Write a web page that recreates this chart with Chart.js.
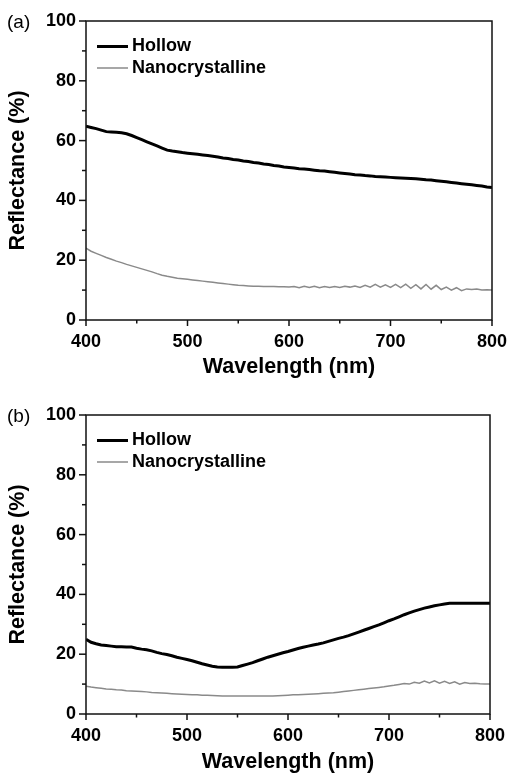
<!DOCTYPE html>
<html>
<head>
<meta charset="utf-8">
<script src="https://cdn.jsdelivr.net/npm/chart.js@4"></script>
<style>
  html, body { margin: 0; padding: 0; background: #fff; }
  #wrapA { position: absolute; left: 0; top: 0; }
  #wrapB { position: absolute; left: 0; top: 386px; }
</style>
</head>
<body>
<div id="wrapA"><canvas id="chartA" width="508" height="386"></canvas></div>
<div id="wrapB"><canvas id="chartB" width="508" height="387"></canvas></div>
<script>
// Data
const wavelength = [
    400, 405, 410, 415, 420, 425, 430, 435, 440, 445,
    450, 455, 460, 465, 470, 475, 480, 485, 490, 495,
    500, 505, 510, 515, 520, 525, 530, 535, 540, 545,
    550, 555, 560, 565, 570, 575, 580, 585, 590, 595,
    600, 605, 610, 615, 620, 625, 630, 635, 640, 645,
    650, 655, 660, 665, 670, 675, 680, 685, 690, 695,
    700, 705, 710, 715, 720, 725, 730, 735, 740, 745,
    750, 755, 760, 765, 770, 775, 780, 785, 790, 795,
    800
];

// (a)
const hollowA = [
    64.8, 64.4, 64.0, 63.5, 63.0, 62.9, 62.8, 62.6, 62.3, 61.7,
    61.0, 60.3, 59.6, 58.9, 58.2, 57.5, 56.8, 56.5, 56.3, 56.0,
    55.8, 55.6, 55.4, 55.2, 55.0, 54.8, 54.5, 54.2, 54.0, 53.7,
    53.5, 53.2, 53.0, 52.7, 52.5, 52.2, 52.0, 51.7, 51.5, 51.2,
    51.0, 50.8, 50.6, 50.5, 50.3, 50.1, 49.9, 49.8, 49.6, 49.4,
    49.2, 49.0, 48.8, 48.6, 48.5, 48.3, 48.2, 48.0, 47.9, 47.8,
    47.7, 47.6, 47.5, 47.4, 47.3, 47.2, 47.1, 46.9, 46.8, 46.6,
    46.4, 46.2, 46.0, 45.8, 45.6, 45.4, 45.2, 45.0, 44.8, 44.5,
    44.3
];
const nanoA = [
    24.0, 23.0, 22.3, 21.6, 20.9, 20.3, 19.7, 19.2, 18.6, 18.1,
    17.6, 17.1, 16.6, 16.1, 15.5, 15.0, 14.6, 14.3, 14.0, 13.8,
    13.6, 13.4, 13.2, 13.0, 12.8, 12.6, 12.4, 12.2, 12.0, 11.8,
    11.6, 11.5, 11.4, 11.3, 11.3, 11.2, 11.2, 11.2, 11.1, 11.1,
    11.0, 11.2, 10.8, 11.3, 10.9, 11.3, 10.8, 11.2, 10.9, 11.2,
    10.9, 11.3, 11.0, 11.4, 10.9, 11.6, 11.0, 11.9, 11.0, 11.8,
    10.9, 11.9, 10.8, 12.0, 10.6, 11.8, 10.4, 11.9, 10.3, 11.6,
    10.2, 11.0, 10.0, 10.8, 9.8, 10.4, 10.2, 10.4, 10.0, 10.1,
    10.0
];

// (b)
const hollowB = [
    25.0, 24.0, 23.5, 23.1, 22.9, 22.7, 22.5, 22.5, 22.4, 22.4,
    22.0, 21.7, 21.5, 21.1, 20.6, 20.2, 19.9, 19.5, 19.0, 18.6,
    18.2, 17.8, 17.3, 16.8, 16.4, 16.0, 15.7, 15.6, 15.6, 15.6,
    15.7, 16.2, 16.7, 17.2, 17.8, 18.4, 19.0, 19.5, 20.0, 20.5,
    20.9, 21.4, 21.9, 22.3, 22.7, 23.1, 23.4, 23.8, 24.3, 24.8,
    25.3, 25.7, 26.2, 26.8, 27.4, 28.0, 28.6, 29.2, 29.8, 30.5,
    31.2, 31.8, 32.5, 33.2, 33.8, 34.4, 34.9, 35.4, 35.8, 36.2,
    36.5, 36.8, 37.0, 37.0, 37.0, 37.0, 37.0, 37.0, 37.0, 37.0,
    37.0
];
const nanoB = [
    9.3, 9.0, 8.8, 8.6, 8.4, 8.3, 8.1, 8.0, 7.8, 7.7,
    7.6, 7.5, 7.4, 7.2, 7.1, 7.0, 6.9, 6.8, 6.7, 6.6,
    6.5, 6.4, 6.4, 6.3, 6.3, 6.2, 6.1, 6.0, 6.0, 6.0,
    6.0, 6.0, 6.0, 6.0, 6.0, 6.0, 6.0, 6.0, 6.1, 6.2,
    6.3, 6.4, 6.4, 6.5, 6.6, 6.7, 6.8, 6.9, 7.0, 7.1,
    7.3, 7.5, 7.7, 7.9, 8.1, 8.3, 8.5, 8.7, 8.9, 9.1,
    9.4, 9.6, 9.9, 10.2, 10.0, 10.6, 10.3, 11.0, 10.4, 11.1,
    10.3, 10.9, 10.2, 10.8, 10.0, 10.5, 10.2, 10.3, 10.1, 10.0,
    10.0
];

const seriesNames = ['Hollow', 'Nanocrystalline'];
const yTicks = [0, 20, 40, 60, 80, 100];
const xTicks = [400, 500, 600, 700, 800];

const FONT = 'Liberation Sans, Arial, sans-serif';

// minor/major ticks, frame, legend and panel letter
const decor = {
    id: 'decor',
    afterDraw(chart, args, opts) {
        const ctx = chart.ctx;
        const a = chart.chartArea;
        const xs = chart.scales.x, ys = chart.scales.y;
        ctx.save();
        ctx.strokeStyle = '#111';
        ctx.lineWidth = 1.5;
        ys.ticks.forEach(t => {
            const y = ys.getPixelForValue(t.value);
            const len = yTicks.includes(t.value) ? 7 : 4;
            ctx.beginPath();
            ctx.moveTo(a.left - len, y);
            ctx.lineTo(a.left, y);
            ctx.stroke();
        });
        xs.ticks.forEach(t => {
            const x = xs.getPixelForValue(t.value);
            const len = xTicks.includes(t.value) ? 6 : 3.5;
            ctx.beginPath();
            ctx.moveTo(x, a.bottom);
            ctx.lineTo(x, a.bottom + len);
            ctx.stroke();
        });
        ctx.strokeRect(a.left, a.top, a.right - a.left, a.bottom - a.top);

        // legend
        ctx.font = 'bold 18px ' + FONT;
        ctx.textBaseline = 'middle';
        ctx.textAlign = 'left';
        chart.data.datasets.forEach((ds, i) => {
            const y = a.top + 25.5 + i * 21.5;
            ctx.strokeStyle = ds.borderColor;
            ctx.lineWidth = ds.borderWidth;
            ctx.beginPath();
            ctx.moveTo(a.left + 11, y);
            ctx.lineTo(a.left + 42, y);
            ctx.stroke();
            ctx.fillStyle = '#000';
            ctx.fillText(ds.label, a.left + 46, y);
        });

        // panel letter
        ctx.font = '19px ' + FONT;
        ctx.fillStyle = '#000';
        ctx.fillText(opts.label, 7, a.top + 2);
        ctx.restore();
    }
};

function makeChart(id, hollow, nano, panel, pad) {
    return new Chart(document.getElementById(id), {
        type: 'line',
        data: {
            labels: wavelength,
            datasets: [
                {
                    label: seriesNames[0],
                    data: hollow,
                    borderColor: '#000',
                    borderWidth: 3,
                    pointRadius: 0,
                    tension: 0
                },
                {
                    label: seriesNames[1],
                    data: nano,
                    borderColor: '#8a8a8a',
                    borderWidth: 1.5,
                    pointRadius: 0,
                    tension: 0
                }
            ]
        },
        options: {
            responsive: false,
            animation: false,
            layout: { padding: { top: pad.top, right: pad.right, left: 0, bottom: 0 } },
            plugins: {
                legend: { display: false },
                tooltip: { enabled: false },
                decor: { label: panel }
            },
            scales: {
                x: {
                    type: 'linear',
                    min: 400,
                    max: 800,
                    afterFit: s => {
                        s.height = pad.xHeight;
                        s.paddingLeft = 0;
                        s.paddingRight = 0;
                    },
                    grid: { drawOnChartArea: false, tickLength: 6, tickColor: 'rgba(0,0,0,0)' },
                    border: { display: false },
                    ticks: {
                        stepSize: 50,
                        padding: 5,
                        maxRotation: 0,
                        color: '#000',
                        font: { family: FONT, size: 18, weight: 'bold' },
                        callback: v => xTicks.includes(v) ? String(v) : ''
                    },
                    title: {
                        display: true,
                        text: 'Wavelength (nm)',
                        color: '#000',
                        font: { family: FONT, size: 21.5, weight: 'bold', lineHeight: 1 },
                        padding: { top: 0, bottom: pad.titleBottom }
                    }
                },
                y: {
                    min: 0,
                    max: 100,
                    afterFit: s => {
                        s.width = 86;
                        s.paddingTop = 0;
                        s.paddingBottom = 0;
                    },
                    grid: { drawOnChartArea: false, tickLength: 6, tickColor: 'rgba(0,0,0,0)' },
                    border: { display: false },
                    ticks: {
                        stepSize: 10,
                        padding: 4,
                        color: '#000',
                        font: { family: FONT, size: 18, weight: 'bold' },
                        callback: v => yTicks.includes(v) ? String(v) : ''
                    },
                    title: {
                        display: true,
                        text: 'Reflectance (%)',
                        color: '#000',
                        font: { family: FONT, size: 21.5, weight: 'bold', lineHeight: 1 },
                        padding: { top: 7, bottom: 0 }
                    }
                }
            }
        },
        plugins: [decor]
    });
}

makeChart('chartA', hollowA, nanoA, '(a)', { top: 21, right: 16, xHeight: 66, titleBottom: 8 });
makeChart('chartB', hollowB, nanoB, '(b)', { top: 29, right: 18, xHeight: 59, titleBottom: 0 });
</script>
</body>
</html>
